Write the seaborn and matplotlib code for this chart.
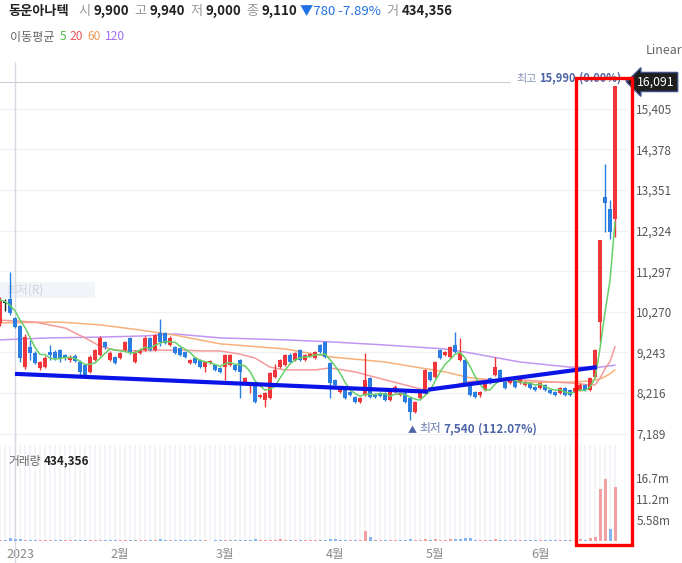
import numpy as np
import pandas as pd
import matplotlib
matplotlib.use("Agg")
import matplotlib.pyplot as plt
from matplotlib.patches import Rectangle
import seaborn as sns

# ---- data (trading-day index, 0 = first day of 2023) ----
day_idx = list(range(-3, 121))

opens = [9990, 10490, 10590, 10110, 9900, 8870, 9380, 9230, 8850, 8870,
         9250, 9250, 9300, 9180, 9050, 9150, 9000, 8920, 8750, 9050,
         9180, 9500, 9050, 9130, 9100, 9300, 9610, 9000, 9230, 9300,
         9610, 9300, 9730, 9730, 9430, 9380, 9350, 9250, 8980, 9100,
         9050, 8870, 8980, 8920, 8850, 8870, 8920, 8920, 9050, 8470,
         8420, 8420, 8110, 8040, 8090, 8620, 8870, 8920, 9180, 9050,
         9300, 9050, 9150, 9100, 9430, 9500, 8980, 8550, 8240, 8290,
         8240, 8120, 7990, 8170, 8600, 8190, 8210, 8210, 8040, 8240,
         8170, 8220, 8090, 7740, 8090, 8220, 8750, 8620, 9300, 9180,
         9130, 9430, 9050, 9050, 8420, 8240, 8170, 8290, 8600, 8670,
         8800, 8490, 8470, 8550, 8470, 8420, 8470, 8370, 8340, 8420,
         8290, 8240, 8220, 8340, 8290, 8240, 8290, 8420, 8290, 8620,
         10010, 13170, 12870, 12620]
highs = [10650, 10600, 11280, 10150, 9940, 9700, 9560, 9280, 9030, 9150,
         9430, 9300, 9330, 9200, 9180, 9200, 9050, 8950, 9180, 9330,
         9650, 9530, 9280, 9150, 9260, 9530, 9640, 9300, 9350, 9650,
         9640, 9700, 10090, 9760, 9650, 9400, 9380, 9280, 9080, 9130,
         9080, 9030, 9050, 8950, 8870, 9200, 9200, 8950, 9080, 8620,
         8500, 8440, 8200, 8250, 8750, 8950, 9080, 9200, 9220, 9250,
         9330, 9200, 9230, 9280, 9450, 9520, 9000, 8570, 8370, 8320,
         8260, 8140, 8110, 9230, 8620, 8210, 8230, 8230, 8260, 8420,
         8240, 8240, 8110, 8010, 8260, 8830, 8770, 9030, 9330, 9280,
         9400, 9770, 9600, 9080, 8440, 8260, 8260, 8520, 8620, 9120,
         8820, 8510, 8570, 8570, 8620, 8510, 8490, 8390, 8490, 8440,
         8310, 8260, 8370, 8370, 8310, 8470, 8470, 8440, 8620, 9330,
         12090, 14010, 13100, 15990]
lows = [9900, 10300, 10200, 9850, 9000, 8820, 9050, 8940, 8800, 8850,
        9050, 9050, 9000, 9050, 9000, 9000, 8680, 8640, 8720, 9020,
        9150, 9330, 9020, 8950, 9080, 9280, 9200, 8980, 9200, 9280,
        9280, 9280, 9400, 9450, 9400, 9200, 9150, 9100, 8950, 8950,
        8850, 8750, 8950, 8770, 8720, 8540, 8900, 8780, 8090, 8450,
        8210, 7960, 8080, 7860, 8060, 8600, 8850, 8900, 8980, 9020,
        9020, 9020, 9120, 9080, 9230, 9100, 8090, 8400, 8220, 8060,
        8140, 7970, 7970, 8150, 8100, 8100, 8120, 8020, 8020, 8220,
        8150, 7970, 7540, 7700, 8070, 8190, 8520, 8600, 9080, 9150,
        9100, 9230, 9020, 8400, 8140, 8100, 8120, 8270, 8450, 8650,
        8580, 8320, 8450, 8350, 8450, 8400, 8320, 8270, 8320, 8270,
        8190, 8150, 8190, 8150, 8150, 8220, 8270, 8270, 8270, 8600,
        9510, 12290, 12110, 12160]
closes = [10570, 10490, 10240, 9890, 9110, 9630, 9230, 8980, 9000, 9100,
          9180, 9100, 9080, 9100, 9130, 9030, 8750, 8670, 9130, 9300,
          9610, 9380, 9230, 8980, 9230, 9500, 9230, 9230, 9300, 9610,
          9300, 9680, 9500, 9480, 9610, 9230, 9180, 9130, 9050, 8980,
          8870, 9000, 9030, 8800, 8750, 9180, 9180, 8800, 8750, 8600,
          8470, 7990, 8170, 8220, 8720, 8800, 9050, 9180, 9000, 9230,
          9050, 9180, 9200, 9250, 9250, 9130, 8470, 8420, 8340, 8090,
          8170, 7990, 8090, 8550, 8120, 8120, 8140, 8040, 8240, 8370,
          8220, 7990, 7740, 7990, 8240, 8800, 8550, 9000, 9100, 9250,
          9380, 9250, 9230, 8420, 8170, 8120, 8240, 8490, 8470, 8870,
          8600, 8340, 8550, 8370, 8600, 8490, 8340, 8290, 8470, 8290,
          8220, 8170, 8340, 8170, 8170, 8340, 8420, 8290, 8600, 9300,
          12090, 13020, 12300, 15990]
volume_m = [0.25, 0.3, 0.9, 0.45, 0.434356,
            0.35, 0.3, 0.25, 0.2, 0.22, 0.2, 0.18, 0.2, 0.15, 0.15, 0.18, 0.3, 0.25, 0.22, 0.25, 0.35, 0.2, 0.18, 0.2,
            0.2, 0.22, 0.3, 0.2, 0.15, 0.28, 0.25, 0.3, 0.4, 0.3, 0.25, 0.2, 0.18, 0.15, 0.15, 0.15, 0.15, 0.15, 0.12, 0.15,
            0.15, 0.3, 0.2, 0.18, 0.35, 0.25, 0.2, 0.6, 0.2, 0.25, 0.35, 0.3, 0.4, 0.35, 0.2, 0.2, 0.2, 0.2, 0.18, 0.2,
            0.22, 0.3, 0.45, 0.6, 0.2, 0.25, 0.2, 0.25, 0.2, 2.6, 1.1, 0.3, 0.2, 0.2, 0.2, 0.25, 0.2, 0.3, 0.45, 0.3,
            0.25, 0.5, 0.3, 0.5, 0.35, 0.3, 0.45, 0.5, 0.4, 0.9, 0.7, 0.3, 0.2, 0.25, 0.2, 0.6, 0.3, 0.2, 0.2, 0.2,
            0.2, 0.2, 0.2, 0.18, 0.2, 0.2, 0.2, 0.18, 0.25, 0.25, 0.2, 0.3, 0.5, 0.3, 0.8, 1.1, 13.8, 16.4, 3.2, 14.3]

# moving averages 20/60/120 read at sample points (index, price)
ma20_idx = [-3, 4, 10, 14, 17, 20, 25, 29, 34, 37, 41, 45, 48, 51, 54, 60, 63, 68, 74, 78, 82, 87, 90, 94, 101, 108, 111, 115, 116, 117, 118, 119, 120]
ma20_val = [10060, 10010, 9860, 9610, 9400, 9300, 9280, 9300, 9300, 9280, 9280, 9200, 9100, 8870, 8800, 8800, 8850, 8750, 8550, 8420, 8290, 8370, 8490, 8550, 8550, 8490, 8470, 8420, 8420, 8590, 8830, 9010, 9390]
ma60_idx = [-3, 9, 17, 25, 32, 41, 54, 63, 74, 86, 91, 101, 111, 115, 117, 118, 119, 120]
ma60_val = [9990, 10010, 9940, 9810, 9680, 9460, 9330, 9130, 9000, 8750, 8600, 8490, 8490, 8520, 8570, 8630, 8700, 8800]
ma120_idx = [-3, 7, 17, 26, 32, 41, 54, 63, 74, 86, 91, 101, 111, 117, 120]
ma120_val = [9560, 9610, 9630, 9660, 9710, 9610, 9560, 9510, 9430, 9330, 9230, 9000, 8870, 8870, 8920]

# hand-drawn trend lines (index, price)
trend1_x = [0, 82.6]
trend1_y = [8700, 8250]
trend2_x = [82.6, 116.4]
trend2_y = [8300, 8870]

price_ticks = [7189, 8216, 9243, 10270, 11297, 12324, 13351, 14378, 15405]
top_label = 16091
vol_ticks = [5.58, 11.16, 16.74]
vol_tick_labels = ["5.58m", "11.2m", "16.7m"]
month_pos = [1, 21, 42, 64, 84, 105]
month_labels = ["2023", "2월", "3월", "4월", "5월", "6월"]
hover_idx = 0
high_idx, high_val = 120, 15990
low_idx, low_val = 79, 7540

df = pd.DataFrame({"i": day_idx, "open": opens, "high": highs, "low": lows,
                   "close": closes, "vol": volume_m})
df["ma5"] = df["close"].rolling(5, min_periods=1).mean()

# ---- style ----
sns.set_theme(style="white")
plt.rcParams["font.family"] = ["Noto Sans CJK KR", "DejaVu Sans"]

UP, DOWN = "#f0353b", "#2a7de1"
VUP, VDOWN = "#f5a0a0", "#86b6f2"
C5, C20, C60, C120 = "#66cf66", "#f59a9a", "#f7b07a", "#c195f2"

W, H = 682, 563
fig = plt.figure(figsize=(W / 100, H / 100), dpi=100)
fx = lambda px: px / W
fy = lambda py: 1 - py / H

ax = fig.add_axes([0, fy(442), fx(628), fy(62) - fy(442)])
axv = fig.add_axes([0, fy(541), fx(628), fy(445) - fy(541)])
axv.patch.set_alpha(0)

x_left, x_right = -3, 122.6
for a in (ax, axv):
    a.set_xlim(x_left, x_right)
    for s in a.spines.values():
        s.set_visible(False)
ax.set_ylim(6976, 16590)
axv.set_ylim(0, 25.46)

# ---- price pane ----
ax.set_xticks([])
ax.yaxis.tick_right()
ax.set_yticks(price_ticks)
ax.set_yticklabels([f"{v:,}" for v in price_ticks])
ax.tick_params(axis="y", length=0, pad=6, labelsize=8.5, labelcolor="#555555")
ax.grid(axis="y", color="#eef0f4", lw=0.8)
ax.set_axisbelow(True)

ax.axvline(hover_idx, color="#d6dbe3", lw=1, zorder=1)
ax.hlines(top_label, x_left, 99, color="#c9ced7", lw=0.8, zorder=1)

# faint tooltip remnant behind the candles
ax.add_patch(Rectangle((fx(0), fy(298)), fx(95), fy(282) - fy(298), transform=fig.transFigure,
                       fc="#f1f4f8", ec="none", zorder=0.5))
ax.text(fx(6), fy(290), "최저(R)", transform=fig.transFigure, color="#ccd3dd",
        fontsize=8.5, va="center", zorder=0.6)

# candles (colour by open/close)
colors = []
for o, c in zip(df["open"], df["close"]):
    colors.append(UP if c > o else (DOWN if c < o else "#222222"))
ax.vlines(df["i"], df["low"], df["high"], colors=colors, lw=1, zorder=3)
body = np.maximum((df["close"] - df["open"]).abs(), 22)
ax.bar(df["i"], body, bottom=np.minimum(df["open"], df["close"]), width=0.7,
       color=colors, zorder=4, linewidth=0)

# moving averages
sns.lineplot(x=ma120_idx, y=ma120_val, ax=ax, color=C120, lw=1.1, zorder=2)
sns.lineplot(x=ma60_idx, y=ma60_val, ax=ax, color=C60, lw=1.1, zorder=2)
sns.lineplot(x=ma20_idx, y=ma20_val, ax=ax, color=C20, lw=1.1, zorder=2)
sns.lineplot(data=df, x="i", y="ma5", ax=ax, color=C5, lw=1.1, zorder=5)
ax.set_xlabel("")
ax.set_ylabel("")

# trend lines
ax.plot(trend1_x, trend1_y, color="#0a14e6", lw=3, solid_capstyle="butt", zorder=6)
ax.plot(trend2_x, trend2_y, color="#0a14e6", lw=3, solid_capstyle="butt", zorder=6)


def chain(host, first, parts):
    t = first
    for s, col, size, wt, gap in parts:
        t = host.annotate(s, xy=(1, 0), xycoords=t, xytext=(gap, 0), textcoords="offset points",
                          ha="left", va="bottom", color=col, fontsize=size, fontweight=wt,
                          annotation_clip=False)
    return t


# high / low notes
t = ax.text(100.2, 16150, "최고", color="#8995b8", fontsize=8, va="center", zorder=7)
chain(ax, t, [(f"{high_val:,}", "#4d64a6", 8, "bold", 2),
              ("(0.00%)", "#4d64a6", 8, "bold", 2),
              ("▾", "#4d64a6", 7, "normal", 2)])
t = ax.text(low_idx - 0.5, 7260, "▲", color="#4d64a6", fontsize=6.5, va="center", zorder=7)
chain(ax, t, [("최저", "#6a7cb0", 8.5, "normal", 2),
              (f"{low_val:,}", "#4d64a6", 8.5, "bold", 2),
              ("(112.07%)", "#4d64a6", 8.5, "bold", 2)])

# ---- volume pane (colour by change from previous close) ----
axv.bar(df["i"], 25.46, width=0.55, color="#f2f4f8", zorder=0, linewidth=0)
chg = df["close"].diff().fillna(df["close"] - df["open"])
vcol = [VUP if d > 0 else (VDOWN if d < 0 else "#aaaaaa") for d in chg]
axv.bar(df["i"], df["vol"], width=0.6, color=vcol, zorder=2, linewidth=0)
axv.axvline(hover_idx, ymin=-0.3, ymax=1.1, color="#d6dbe3", lw=1, zorder=1, clip_on=False)
axv.yaxis.tick_right()
axv.set_yticks(vol_ticks)
axv.set_yticklabels(vol_tick_labels)
axv.tick_params(axis="y", length=0, pad=6, labelsize=8.5, labelcolor="#555555")
axv.set_xticks(month_pos)
axv.set_xticklabels(month_labels)
axv.tick_params(axis="x", length=0, pad=5, labelsize=9, labelcolor="#888888")
axv.grid(False)

t = axv.text(fx(8), fy(461), "거래량", transform=fig.transFigure, color="#666666",
             fontsize=8.5, va="center", zorder=5)
chain(axv, t, [("434,356", "#222222", 8.5, "bold", 2)])

# ---- header texts ----
t = fig.text(fx(8), fy(11), "동운아나텍", color="#222222", fontsize=9.5, fontweight="bold", va="center")
hdr = [("시", "#999999", 9.5, "normal", 7), ("9,900", "#222222", 9.5, "bold", 2),
       ("고", "#999999", 9.5, "normal", 4), ("9,940", "#222222", 9.5, "bold", 2),
       ("저", "#999999", 9.5, "normal", 4), ("9,000", "#222222", 9.5, "bold", 2),
       ("종", "#999999", 9.5, "normal", 4), ("9,110", "#222222", 9.5, "bold", 2),
       ("▼780 -7.89%", "#1f6fe5", 9.5, "normal", 2),
       ("거", "#999999", 9.5, "normal", 4), ("434,356", "#222222", 9.5, "bold", 2)]
chain(ax, t, hdr)

t = fig.text(fx(10), fy(37), "이동평균", color="#666666", fontsize=8.7, va="center")
chain(ax, t, [("5", "#4dbb4d", 8.7, "normal", 4), ("20", "#f0555a", 8.7, "normal", 2),
              ("60", "#f39a55", 8.7, "normal", 3), ("120", "#a56cf0", 8.7, "normal", 3)])

fig.text(fx(646), fy(51), "Linear", color="#666666", fontsize=9, va="center")

# price tag at top of the scale
fig.text(fx(637), fy(82), f"{top_label:,}", color="white", fontsize=8.8, va="center",
         bbox=dict(boxstyle="larrow,pad=0.25", fc="#1e1e1e", ec="#3f5189", lw=1))

# red highlight box
fig.add_artist(Rectangle((fx(576), fy(545)), fx(632) - fx(576), fy(78) - fy(545),
                         transform=fig.transFigure, fill=False, ec="#ff0000", lw=2.4, zorder=20))

fig.savefig("out.png", dpi=100)
